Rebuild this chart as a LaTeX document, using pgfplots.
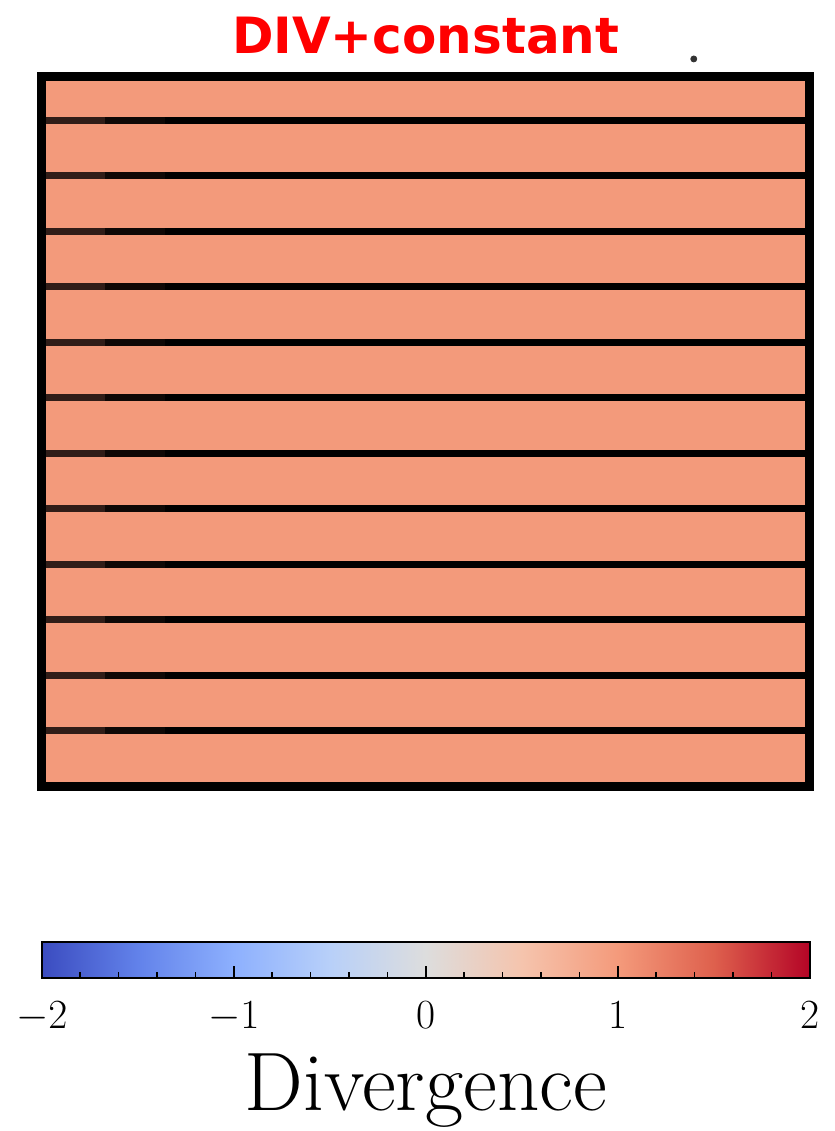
\documentclass[border=0pt]{standalone}
\usepackage{fontspec}
\usepackage{pgfplots}
\pgfplotsset{compat=1.18}
\newfontfamily\titlefont{DejaVu Sans}
\definecolor{cellc}{RGB}{243,154,123}
\definecolor{seg1}{RGB}{48,29,24}
\definecolor{seg2}{RGB}{14,8,6}
\definecolor{dotc}{RGB}{50,50,50}
\pgfplotsset{colormap={coolwarm}{rgb255(0)=(59,76,192) rgb255(1)=(98,130,234)
  rgb255(2)=(141,176,254) rgb255(3)=(184,208,249) rgb255(4)=(221,221,221)
  rgb255(5)=(245,196,173) rgb255(6)=(244,154,123) rgb255(7)=(222,96,77)
  rgb255(8)=(180,4,38)}}
\begin{document}
\begin{tikzpicture}
\begin{axis}[
    name=ax, scale only axis, width=383.75pt, height=354.5pt,
    xmin=0, xmax=12.8, ymin=0, ymax=12.775,
    xtick=\empty, ytick=\empty, clip=false, axis on top,
    axis line style={line width=4.5pt, black},
    title={DIV+constant},
    title style={at={(0.5,1)}, anchor=base, yshift=5.5pt, text=red,
        font=\titlefont\bfseries\fontsize{25}{29}\selectfont},
]
% heatmap cells (all equal to about 1)
\addplot[fill=cellc, draw=none] coordinates {(0,0) (12.8,0) (12.8,12.775) (0,12.775)} -- cycle;
% row separators
\foreach \r in {1,...,12} {
  \edef\tmp{\noexpand\addplot[seg1, line width=3.5pt] coordinates {(0,\r) (1.05,\r)};
    \noexpand\addplot[seg2, line width=3.5pt] coordinates {(1.05,\r) (2.05,\r)};
    \noexpand\addplot[black, line width=3.5pt] coordinates {(2.05,\r) (12.8,\r)};}
  \tmp
}
\addplot[only marks, mark=*, mark size=1.5pt, dotc] coordinates {(10.87,13.10)};
\end{axis}
% colorbar
\begin{axis}[
    at={(ax.south)}, anchor=north, yshift=-78pt,
    scale only axis, width=384pt, height=18pt,
    xmin=-2, xmax=2, ymin=0, ymax=1, ytick=\empty,
    axis on top, colormap name=coolwarm, point meta min=-2, point meta max=2,
    xtick={-2,-1,0,1,2}, minor x tick num=4,
    tick align=inside, xtick pos=bottom,
    major tick length=6pt, minor tick length=3pt,
    every tick/.style={line width=0.8pt, black},
    axis line style={line width=1pt},
    xticklabel style={anchor=base, yshift=-25pt, font=\fontsize{21.5}{25}\selectfont},
    xlabel={Divergence},
    xlabel style={at={(0.5,0)}, anchor=base, yshift=-66pt, font=\fontsize{41.5}{48}\selectfont},
]
\addplot[surf, shader=interp, point meta=x] coordinates {
(-2,0) (2,0)

(-2,1) (2,1)
};
\end{axis}
\pgfresetboundingbox
\path ([shift={(-21pt,-172.5pt)}]ax.south west) rectangle ([shift={(12.75pt,38.5pt)}]ax.north east);
\end{tikzpicture}
\end{document}
